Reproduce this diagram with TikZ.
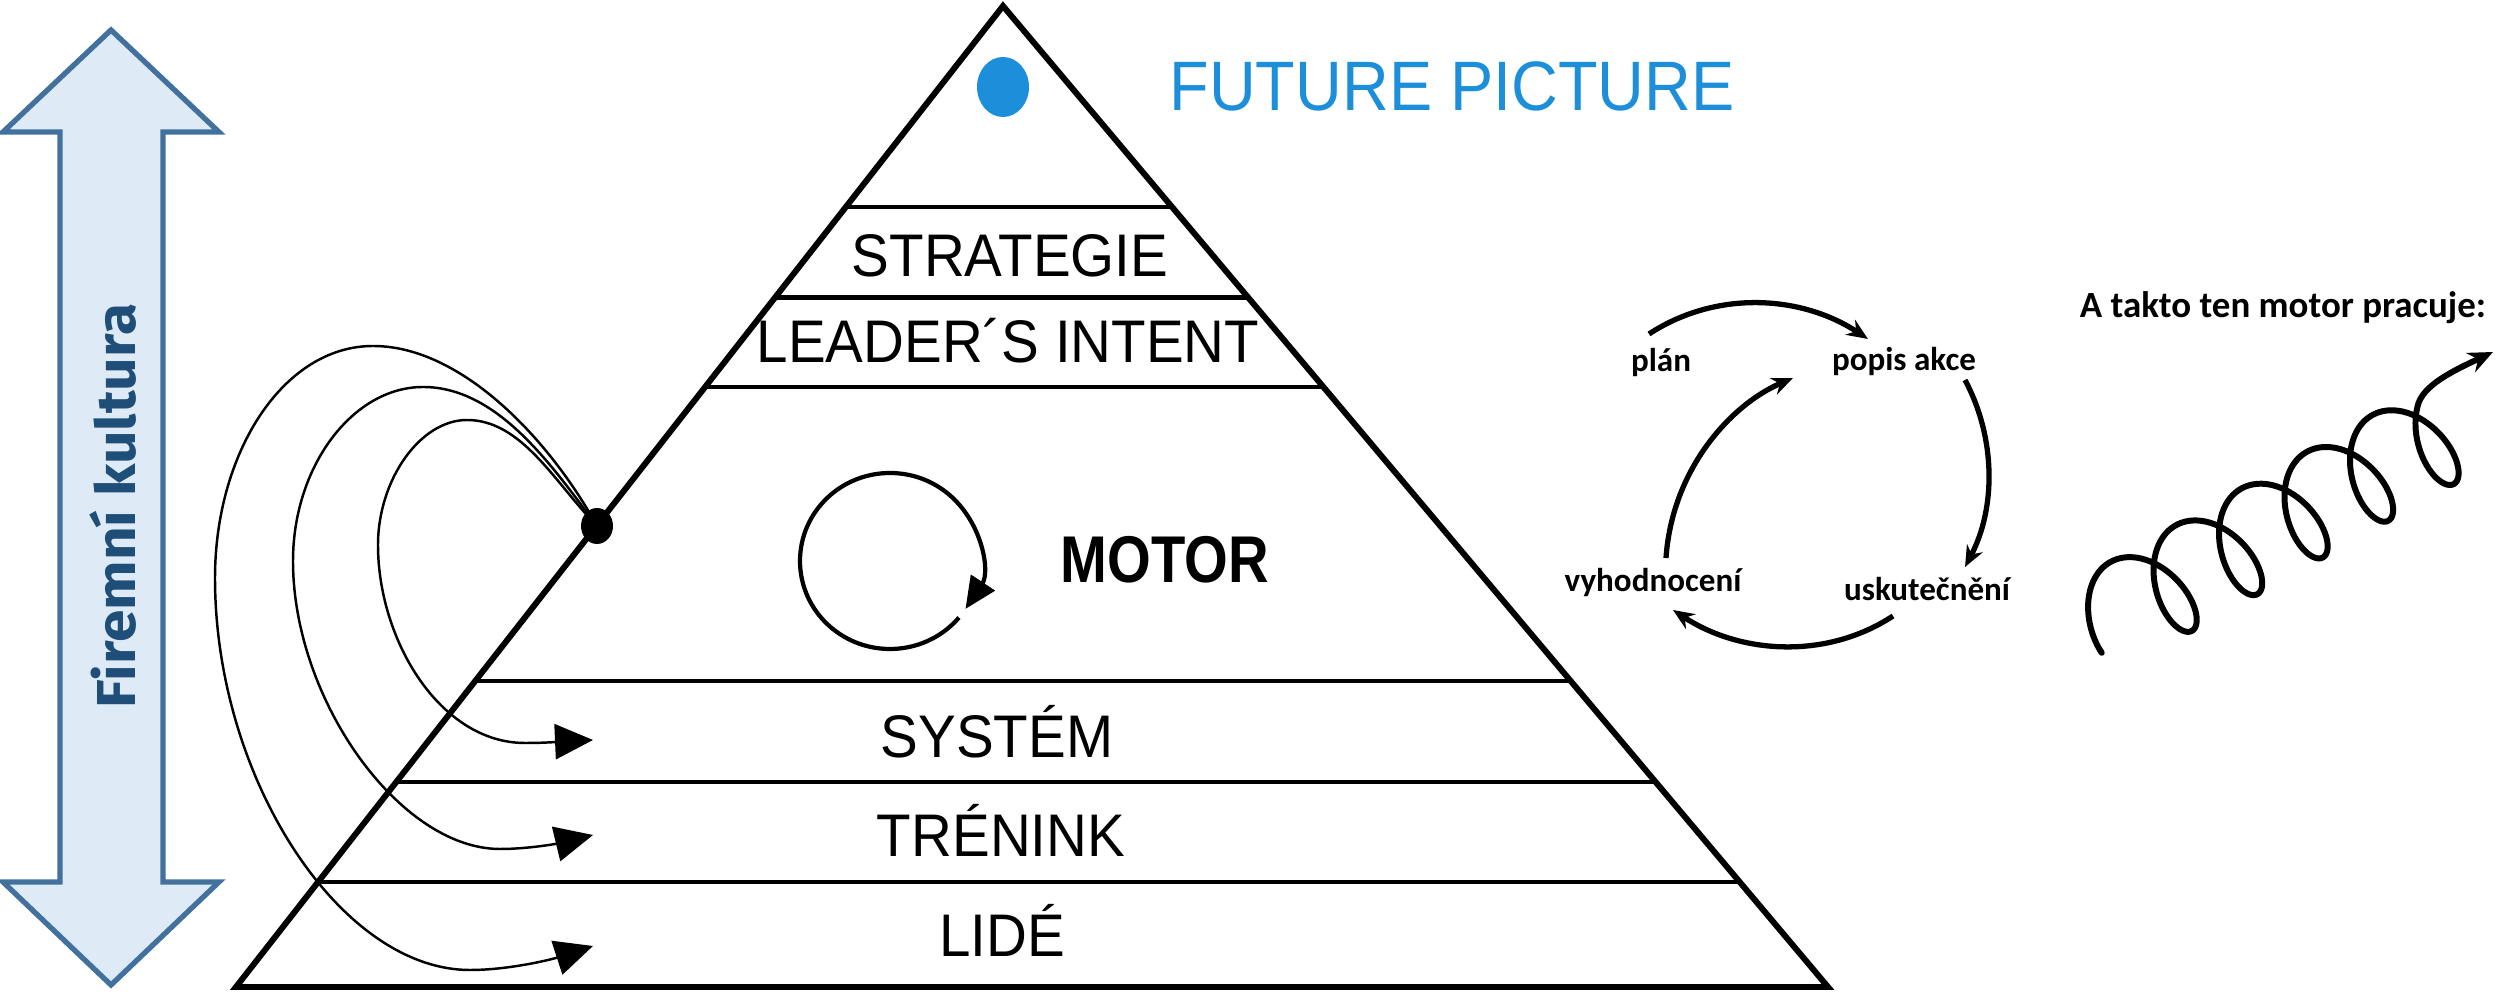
\documentclass[tikz,border=0pt]{standalone}
\usepackage{fontspec}
\usepackage{graphicx}
\setmainfont{Liberation Sans}
\newfontfamily\carlitofont{Carlito}
\newfontfamily\firafont{Fira Sans}
\usetikzlibrary{arrows.meta,calc}
\definecolor{fpblue}{RGB}{28,142,218}
\definecolor{arrowedge}{RGB}{65,113,156}
\definecolor{arrowfill}{RGB}{222,235,247}
\definecolor{culturetext}{RGB}{31,78,121}
\newcommand{\sqz}[2]{\scalebox{#1}[1]{#2}}
\begin{document}
\begin{tikzpicture}[x=0.01cm,y=-0.01cm,
  edge/.style={line width=1.7pt, line join=miter},
  band/.style={line width=1.4pt},
  lbl/.style={font=\fontsize{17.1}{20}\selectfont, anchor=base, inner sep=0pt},
  feedback/.style={line width=0.7pt, -{Triangle[length=10.8pt,width=10pt]}},
  cyc/.style={line width=1.5pt, -{Stealth[length=6pt,width=5pt]}},
  cyclbl/.style={font=\carlitofont\bfseries\fontsize{9.4}{11}\selectfont, anchor=base, inner sep=0pt},
]
\useasboundingbox (0,0) rectangle (2496,995);

% big double arrow
\draw[line width=1.5pt, draw=arrowedge, fill=arrowfill, line join=miter]
  (111,30) -- (219,132) -- (163,132) -- (163,882) -- (219,882) -- (111,985)
  -- (3,882) -- (60,882) -- (60,132) -- (3,132) -- cycle;
\node[rotate=90, text=culturetext, font=\firafont\bfseries\fontsize{15.6}{18}\selectfont, inner sep=0pt] (culture) at (113,506) {\sqz{1.07}{Firemní kultura}};

% pyramid
\coordinate (apex) at (1003,6);
\coordinate (bl) at (236,987);
\coordinate (br) at (1828,987);
\draw[edge] (apex) -- (bl) -- (br) -- cycle;
\foreach \tt/\n in {0.2049/a,0.2976/b,0.3884/c,0.6881/d,0.7910/e,0.8930/f}{
  \coordinate (L\n) at ($(apex)!\tt!(bl)$);
  \coordinate (R\n) at ($(apex)!\tt!(br)$);
  \draw[band] (L\n) -- (R\n);
}

\fill[fpblue] (1003,87) ellipse [x radius=26, y radius=30];
\node[anchor=base, inner sep=0pt, text=fpblue, font=\fontsize{19.9}{23}\selectfont] (future) at (1452,111) {\sqz{0.925}{FUTURE PICTURE}};

\node[lbl] (strat) at (1010,277) {\sqz{0.94}{STRATEGIE}};
\node[lbl] (intent) at (1008,363) {\sqz{0.94}{LEADER´S INTENT}};
\node[lbl] (system) at (997,758) {\sqz{0.94}{SYSTÉM}};
\node[lbl] (trenink) at (1001,857) {\sqz{0.94}{TRÉNINK}};
\node[lbl] (lide) at (1002,957) {\sqz{0.94}{LIDÉ}};
\node[anchor=base, inner sep=0pt, font=\bfseries\fontsize{18.8}{22}\selectfont] (motor) at (1165,583) {\sqz{0.85}{MOTOR}};

% motor circle
\coordinate (mc) at (890,561);
\draw[line width=1.2pt, -{Triangle[length=9pt,width=8pt]}] (mc) ++(40:90 and 88) arc[start angle=40, end angle=393, x radius=90, y radius=88];

% feedback curves
\coordinate (dot) at (597,526);
\coordinate (toSys) at (593,740);
\coordinate (toTr) at (593,835);
\coordinate (toLi) at (593,946);
\draw[feedback] (dot) .. controls (551,442) and (463,346) .. (373,346)
  .. controls (283,346) and (215,453) .. (215,578)
  .. controls (215,778) and (340,970) .. (470,970)
  .. controls (510,970) and (553,959) .. (toLi);
\draw[feedback] (dot) .. controls (552,466) and (498,387) .. (423,387)
  .. controls (353,387) and (293,466) .. (293,561)
  .. controls (293,700) and (400,849) .. (500,849)
  .. controls (530,849) and (560,843) .. (toTr);
\draw[feedback] (dot) .. controls (555,483) and (522,420) .. (467,420)
  .. controls (420,420) and (378,480) .. (378,545)
  .. controls (378,640) and (440,743) .. (525,743)
  .. controls (550,743) and (570,741) .. (toSys);
\fill (dot) ellipse [x radius=16, y radius=18];

% cycle
\node[cyclbl] (plan) at (1661,372) {plán};
\node[cyclbl] (popis) at (1904,371) {popis akce};
\node[cyclbl] (usk) at (1927,601) {uskutečnění};
\node[cyclbl] (vyh) at (1653,592) {vyhodnocení};
\coordinate (c1s) at (1649,334); \coordinate (c1e) at (1868,339);
\coordinate (c2s) at (1965,380); \coordinate (c2e) at (1965,567);
\coordinate (c3s) at (1893,616); \coordinate (c3e) at (1673,610);
\coordinate (c4s) at (1666,558); \coordinate (c4e) at (1793,378);
\draw[cyc] (c1s) .. controls (1716,290) and (1801,295) .. (c1e);
\draw[cyc] (c2s) .. controls (1996,438) and (1996,508) .. (c2e);
\draw[cyc] (c3s) .. controls (1826,660) and (1740,654) .. (c3e);
\draw[cyc] (c4s) .. controls (1672,470) and (1730,405) .. (c4e);

% spiral
\node[anchor=base, inner sep=0pt, font=\carlitofont\bfseries\fontsize{10.5}{12}\selectfont] (howto) at (2283,318) {A takto ten motor pracuje:};
\coordinate (spiralTip) at (2493,352);
\draw[line width=1.7pt, line cap=round, -{Stealth[length=7pt,width=6pt]}]
  plot[domain=60:1935, samples=500, variable=\t]
  ({2102 + 0.872*(0.20857*\t - 31*sin(\t)) + 24.45*cos(\t)},
   {624 - 0.489*(0.20857*\t - 31*sin(\t)) + 43.6*cos(\t)})
  .. controls (2422,385) and (2455,370) .. (spiralTip);
\end{tikzpicture}
\end{document}
